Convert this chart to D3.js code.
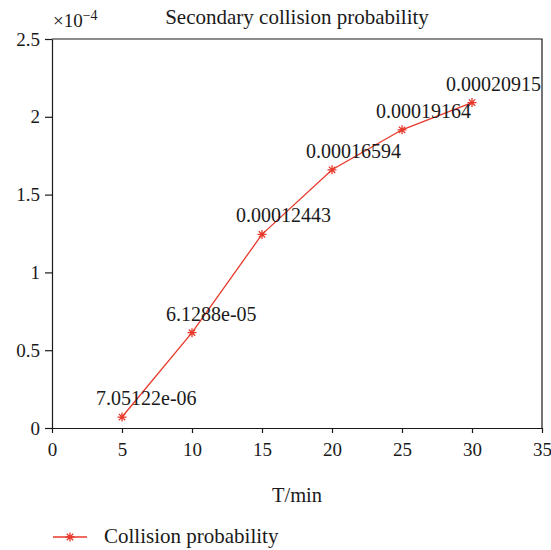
<!DOCTYPE html>
<html>
<head>
<meta charset="utf-8">
<script src="https://cdn.jsdelivr.net/npm/d3@7"></script>
<style>
  html, body { margin: 0; padding: 0; background: #fff; }
  svg { display: block; }
  text { font-family: "Liberation Serif", "DejaVu Serif", serif; fill: #1a1a1a; }
</style>
</head>
<body>
<svg id="chart" width="551" height="550"></svg>
<script>
// ---- data ----
const times = [5, 10, 15, 20, 25, 30];
const probabilities = [7.05122e-06, 6.1288e-05, 0.00012443, 0.00016594, 0.00019164, 0.00020915];
const pointLabels = ["7.05122e-06", "6.1288e-05", "0.00012443", "0.00016594", "0.00019164", "0.00020915"];
const xTicks = [0, 5, 10, 15, 20, 25, 30, 35];
const yTicks = [0, 0.5, 1, 1.5, 2, 2.5];
const yScaleFactor = 1e-4;
const titleText = "Secondary collision probability";
const xLabelText = "T/min";
const legendText = "Collision probability";

const red = "#e8392b";
const svg = d3.select("#chart");
const m = { left: 52, right: 542, top: 39, bottom: 428 };

const x = d3.scaleLinear().domain([0, 35]).range([m.left, m.right]);
const y = d3.scaleLinear().domain([0, 2.5]).range([m.bottom, m.top]);

// box (top/right)
svg.append("path")
  .attr("d", `M${m.left},${m.top}H${m.right}V${m.bottom}`)
  .attr("fill", "none").attr("stroke", "#1a1a1a").attr("stroke-width", 1.2);

const xAxis = svg.append("g").attr("transform", `translate(0,${m.bottom})`)
  .call(d3.axisBottom(x).tickValues(xTicks).tickSize(5).tickSizeOuter(0).tickPadding(10).tickFormat(d3.format("d")));
const yAxis = svg.append("g").attr("transform", `translate(${m.left},0)`)
  .call(d3.axisLeft(y).tickValues(yTicks).tickSize(7).tickSizeOuter(0).tickPadding(5).tickFormat(d => String(d)));
[xAxis, yAxis].forEach(a => {
  a.select(".domain").attr("stroke", "#1a1a1a").attr("stroke-width", 1.2);
  a.selectAll(".tick line").attr("stroke", "#1a1a1a").attr("stroke-width", 1.2);
  a.selectAll(".tick text").attr("font-family", "Liberation Serif").attr("font-size", 19).attr("fill", "#1a1a1a");
});

// title
svg.append("text").attr("x", (m.left + m.right) / 2).attr("y", 24)
  .attr("text-anchor", "middle").attr("font-size", 21).text(titleText);

// exponent
const ex = svg.append("text").attr("x", 53).attr("y", 27).attr("font-size", 19);
ex.append("tspan").text("×10");
ex.append("tspan").attr("dy", -7).attr("font-size", 14).text("−" + Math.round(-Math.log10(yScaleFactor)));

// x label
svg.append("text").attr("x", (m.left + m.right) / 2).attr("y", 502)
  .attr("text-anchor", "middle").attr("font-size", 20.5).text(xLabelText);

// line
const data = times.map((t, i) => ({ t, v: probabilities[i] / yScaleFactor, label: pointLabels[i] }));
svg.append("path").datum(data)
  .attr("d", d3.line().x(d => x(d.t)).y(d => y(d.v)))
  .attr("fill", "none").attr("stroke", red).attr("stroke-width", 1.3);

function star(g, r) {
  const p = [];
  for (let k = 0; k < 4; k++) {
    const a = k * Math.PI / 4;
    p.push(`M${-r * Math.sin(a)},${-r * Math.cos(a)}L${r * Math.sin(a)},${r * Math.cos(a)}`);
  }
  g.append("path").attr("d", p.join("")).attr("stroke", red).attr("stroke-width", 1.3).attr("fill", "none");
}
data.forEach(d => {
  const g = svg.append("g").attr("transform", `translate(${x(d.t)},${y(d.v)})`);
  star(g, 4.5);
});

// point labels
svg.selectAll(".plabel").data(data).enter().append("text")
  .attr("class", "plabel")
  .attr("x", d => x(d.t) - 26).attr("y", d => y(d.v) - 12)
  .attr("font-size", 20).text(d => d.label);

// legend
const lg = svg.append("g").attr("transform", "translate(53,537)");
lg.append("line").attr("x1", 0).attr("x2", 34).attr("stroke", red).attr("stroke-width", 1.3);
star(lg.append("g").attr("transform", "translate(17,0)"), 4.5);
svg.append("text").attr("x", 104).attr("y", 543).attr("font-size", 21).text(legendText);
</script>
</body>
</html>
